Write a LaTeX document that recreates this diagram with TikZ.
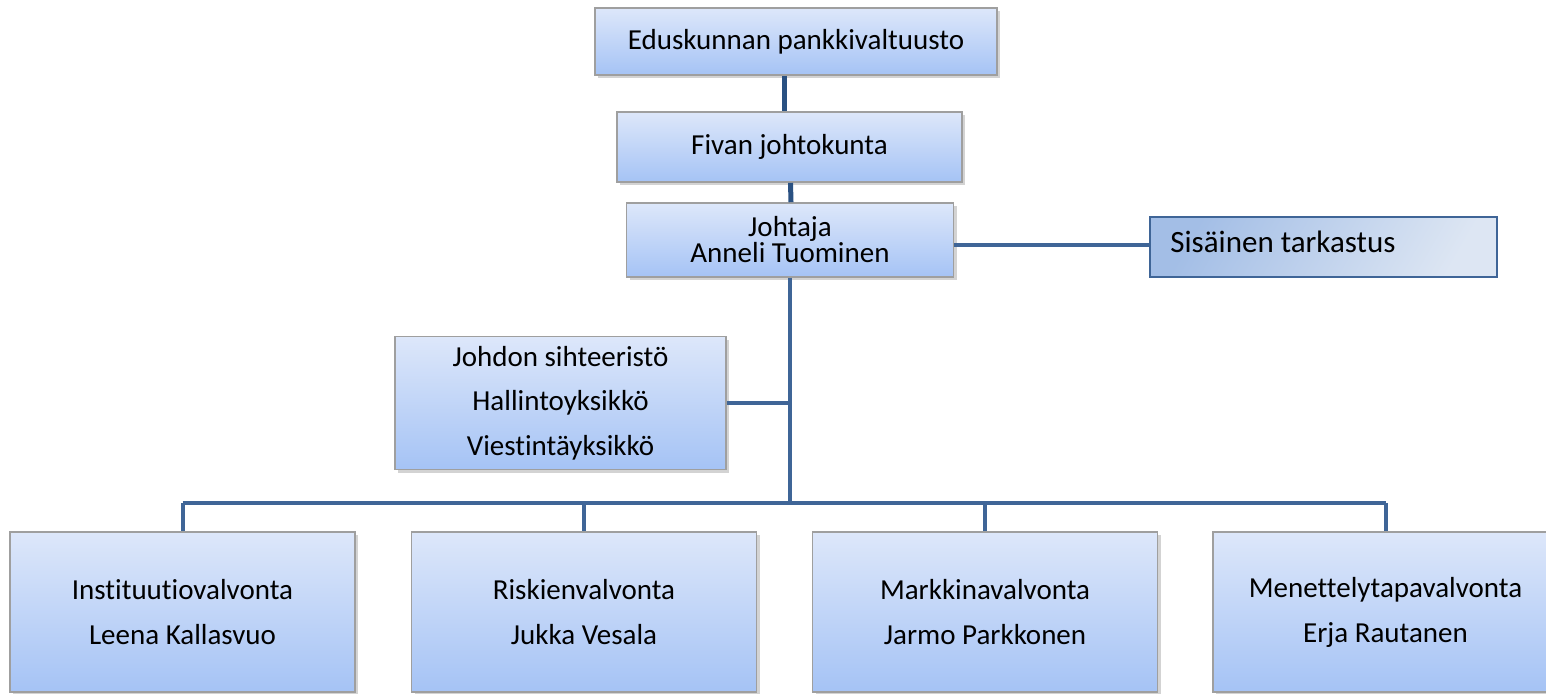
\documentclass[tikz,border=0pt]{standalone}
\usepackage{fontspec}
\setmainfont[Ligatures=NoCommon]{Carlito}
\usetikzlibrary{positioning,calc,shadows}
\definecolor{boxtop}{HTML}{DDE7FA}
\definecolor{boxbot}{HTML}{A5C3F5}
\definecolor{auddark}{HTML}{A3BEE6}
\definecolor{audlight}{HTML}{DDE6F3}
\definecolor{linkdark}{HTML}{2A5182}
\definecolor{link}{HTML}{3F6597}
\tikzset{orgbox/.style={draw=gray!75, line width=0.8pt, top color=boxtop, bottom color=boxbot, align=center, inner sep=0pt, font=\fontsize{14.5}{13}\selectfont, drop shadow={shadow xshift=1.6pt, shadow yshift=-1.6pt, opacity=.35}}}
\tikzset{deptbox/.style={orgbox, minimum width=172.5pt, minimum height=80pt, font=\fontsize{14.5}{22.5}\selectfont}}
\tikzset{auditbox/.style={draw=link, line width=1.1pt, shading=axis, left color=auddark, right color=audlight, shading angle=60, minimum width=173.5pt, minimum height=30pt, inner sep=0pt}}
\tikzset{arr0/.style={draw=linkdark, line width=2.5pt}}
\tikzset{arr1/.style={draw=link, line width=2pt}}
\tikzset{arr2/.style={draw=link, line width=1.6pt}}

\begin{document}
\begin{tikzpicture}[x=0.5pt, y=-0.5pt]
			\useasboundingbox (0,0) rectangle (1546,693);
			\clip (0,0) rectangle (1546,693);
			\node[orgbox, minimum width=201pt, minimum height=33.5pt] (bank) at (796,41.5) {Eduskunnan pankkivaltuusto};
			\node[orgbox, minimum width=172.5pt, minimum height=35pt] (board) at (789.5,147) {Fivan johtokunta};
			\node[orgbox, minimum width=163.5pt, minimum height=37pt] (dir) at (790,240) {Johtaja\\Anneli Tuominen};
			\node[auditbox] (audit) at (1323.5,247) {};
			\node[anchor=west, font=\fontsize{15.5}{18}\selectfont, inner sep=0pt] (audtxt) at (1170,242) {Sisäinen tarkastus};
			\node[orgbox, minimum width=165.5pt, minimum height=66.5pt, font=\fontsize{14.5}{22.2}\selectfont] (staff) at (560.5,403) {Johdon sihteeristö\\Hallintoyksikkö\\Viestintäyksikkö};
%
			\node[deptbox] (inst) at (182.5,612) {Instituutiovalvonta\\Leena Kallasvuo};
			\node[deptbox] (risk) at (584,612) {Riskienvalvonta\\Jukka Vesala};
			\node[deptbox] (mark) at (985,612) {Markkinavalvonta\\Jarmo Parkkonen};
			\node[deptbox] (proc) at (1385.5,612) {Menettelytapavalvonta\\Erja Rautanen};
			\coordinate (hub) at (790,503);
%
			\draw[arr0] (board.north |- bank.south) ++(-5,0) -- ($(board.north)+(-5,0)$);
			\draw[arr0] (board.south) ++(1,0) -- ($(dir.north)+(1,0)$);
			\draw[arr2] (dir.east |- 0,245) -- (audit.west |- 0,245);
			\draw[arr1] (dir.south) -- (hub);
			\draw[arr1] (staff.east) -- (staff.east -| hub);
			\draw[arr1] (inst.north |- hub) -- (proc.north |- hub);
			\foreach \d in {inst,risk,mark,proc}
				\draw[arr1] (\d.north |- hub) -- (\d.north);
		\end{tikzpicture}
\end{document}
